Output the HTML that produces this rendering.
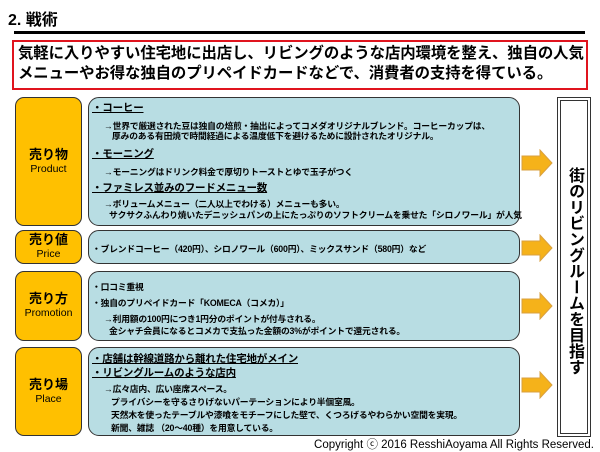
<!DOCTYPE html>
<html><head><meta charset="utf-8"><style>
*{margin:0;padding:0;box-sizing:border-box}
body{width:600px;height:450px;background:#fff;position:relative;overflow:hidden;font-family:"Liberation Sans","Noto Sans CJK JP",sans-serif;color:#000}
.a{position:absolute}
.y{position:absolute;left:15px;width:67px;background:#ffc000;border:1px solid #333;border-radius:9px;text-align:center;font-weight:bold;display:flex;flex-direction:column;justify-content:center;font-size:13px;line-height:15px}
.y small{font-size:10.5px;font-weight:normal}
.b{position:absolute;left:88px;width:432px;background:#b8dde3;border:1px solid #333;border-radius:11px}
.t{position:absolute;white-space:nowrap;font-size:8.8px;font-weight:bold;letter-spacing:-0.2px}
.h{font-size:10.5px;text-decoration:underline;font-weight:bold}
.ar{position:absolute;left:521px;width:32px;height:28px}
</style></head><body>
<div class="a" style="left:8px;top:6px;font-size:16px;font-weight:bold">2. 戦術</div>
<div class="a" style="left:14px;top:31px;width:571px;height:3px;background:#000"></div>
<div class="a" style="left:12px;top:40px;width:576px;height:50px;border:2px solid #e0141e"></div>
<div class="a" style="left:18px;top:44px;font-size:15.4px;font-weight:bold;line-height:20px;white-space:nowrap;letter-spacing:-0.1px">気軽に入りやすい住宅地に出店し、リビングのような店内環境を整え、独自の人気<br>メニューやお得な独自のプリペイドカードなどで、消費者の支持を得ている。</div>

<div class="y" style="top:97px;height:129px">売り物<small>Product</small></div>
<div class="y" style="top:230px;height:34px">売り値<small>Price</small></div>
<div class="y" style="top:271px;height:70px">売り方<small>Promotion</small></div>
<div class="y" style="top:347px;height:89px">売り場<small>Place</small></div>

<div class="b" style="top:97px;height:129px"></div>
<div class="b" style="top:230px;height:34px"></div>
<div class="b" style="top:271px;height:70px"></div>
<div class="b" style="top:347px;height:89px"></div>

<div class="t h" style="left:92px;top:100px">・コーヒー</div>
<div class="t" style="left:104px;top:119px">→世界で厳選された豆は独自の焙煎・抽出によってコメダオリジナルブレンド。コーヒーカップは、</div>
<div class="t" style="left:112px;top:129px">厚みのある有田焼で時間経過による温度低下を避けるために設計されたオリジナル。</div>
<div class="t h" style="left:92px;top:146px">・モーニング</div>
<div class="t" style="left:104px;top:165px">→モーニングはドリンク料金で厚切りトーストとゆで玉子がつく</div>
<div class="t h" style="left:92px;top:180px">・ファミレス並みのフードメニュー数</div>
<div class="t" style="left:104px;top:197px">→ボリュームメニュー（二人以上でわける）メニューも多い。</div>
<div class="t" style="left:109px;top:208px">サクサクふんわり焼いたデニッシュパンの上にたっぷりのソフトクリームを乗せた「シロノワール」が人気</div>

<div class="t" style="left:92px;top:242px">・ブレンドコーヒー（420円）、シロノワール（600円）、ミックスサンド（580円）など</div>

<div class="t" style="left:92px;top:280px">・口コミ重視</div>
<div class="t" style="left:92px;top:296px">・独自のプリペイドカード「KOMECA（コメカ）」</div>
<div class="t" style="left:104px;top:312px">→利用額の100円につき1円分のポイントが付与される。</div>
<div class="t" style="left:109px;top:324px">金シャチ会員になるとコメカで支払った金額の3%がポイントで還元される。</div>

<div class="t h" style="left:92px;top:351px">・店舗は幹線道路から離れた住宅地がメイン</div>
<div class="t h" style="left:92px;top:365px">・リビングルームのような店内</div>
<div class="t" style="left:104px;top:382px">→広々店内、広い座席スペース。</div>
<div class="t" style="left:111px;top:395px">プライバシーを守るさりげないパーテーションにより半個室風。</div>
<div class="t" style="left:111px;top:408px">天然木を使ったテーブルや漆喰をモチーフにした壁で、くつろげるやわらかい空間を実現。</div>
<div class="t" style="left:111px;top:421px">新聞、雑誌 （20～40種）を用意している。</div>

<svg class="ar" style="top:149px" viewBox="0 0 32 28"><polygon points="1,7 19,7 19,1 31,14 19,27 19,21 1,21" fill="#f5b21a" stroke="#d9a040" stroke-width="1"/></svg>
<svg class="ar" style="top:234px" viewBox="0 0 32 28"><polygon points="1,7 19,7 19,1 31,14 19,27 19,21 1,21" fill="#f5b21a" stroke="#d9a040" stroke-width="1"/></svg>
<svg class="ar" style="top:292px" viewBox="0 0 32 28"><polygon points="1,7 19,7 19,1 31,14 19,27 19,21 1,21" fill="#f5b21a" stroke="#d9a040" stroke-width="1"/></svg>
<svg class="ar" style="top:371px" viewBox="0 0 32 28"><polygon points="1,7 19,7 19,1 31,14 19,27 19,21 1,21" fill="#f5b21a" stroke="#d9a040" stroke-width="1"/></svg>

<div class="a" style="left:557px;top:97px;width:34px;height:340px;border:1px solid #333;padding:2px"><div style="width:100%;height:100%;border:1px solid #333"></div></div>
<div class="a" style="left:557px;top:97px;width:34px;height:340px;display:flex;align-items:center;justify-content:center"><div style="writing-mode:vertical-rl;font-size:16px;font-weight:bold;line-height:1;margin-top:8px">街のリビングルームを目指す</div></div>

<div class="a" style="right:6px;top:436px;font-size:11.5px;white-space:nowrap">Copyright ⓒ 2016 ResshiAoyama All Rights Reserved.</div>
</body></html>
